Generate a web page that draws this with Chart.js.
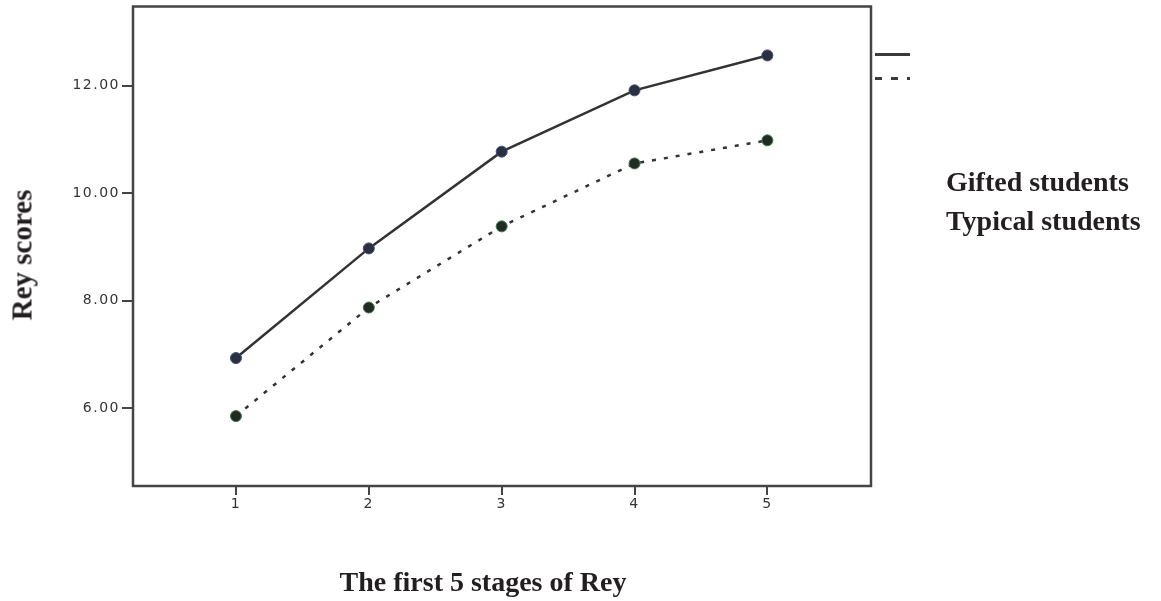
<!DOCTYPE html>
<html>
<head>
<meta charset="utf-8">
<script src="https://cdn.jsdelivr.net/npm/chart.js@4/dist/chart.umd.min.js"></script>
<style>
  html, body { margin: 0; padding: 0; background: #fff; }
  #wrap { position: relative; width: 1161px; height: 601px; }
  #chart { position: absolute; left: 0; top: 0; }
  .ttl {
    position: absolute;
    font: bold 28px "Liberation Serif", "Times New Roman", serif;
    color: #231f20;
    white-space: nowrap;
    line-height: 1;
  }
  #y-title { left: 22px; top: 255px; font-size: 29px; transform: translate(-50%, -50%) rotate(-90deg); }
  #x-title { left: 483px; top: 582px; transform: translate(-50%, -50%); }
  #leg-1 { left: 946px; top: 182px; transform: translateY(-50%); }
  #leg-2 { left: 946px; top: 221px; transform: translateY(-50%); }
  .sample { position: absolute; left: 875px; width: 35px; height: 2.5px; }
  #sample-1 { top: 53px; background: #3a3a3a; }
  #sample-2 {
    top: 77px;
    background: repeating-linear-gradient(to right, #3a3a3a 0 7px, transparent 7px 16px);
  }
</style>
</head>
<body>
<div id="wrap">
  <canvas id="chart" width="1161" height="601"></canvas>
  <div class="sample" id="sample-1"></div>
  <div class="sample" id="sample-2"></div>
  <div class="ttl" id="y-title">Rey scores</div>
  <div class="ttl" id="x-title">The first 5 stages of Rey</div>
  <div class="ttl" id="leg-1">Gifted students</div>
  <div class="ttl" id="leg-2">Typical students</div>
</div>
<script>
/* ── Data ── */
const STAGES  = [1, 2, 3, 4, 5];
const GIFTED  = [6.93, 8.97, 10.77, 11.91, 12.56];
const TYPICAL = [5.85, 7.87, 9.38, 10.55, 10.98];
const Y_TICKS = [6, 8, 10, 12];

const pts = vals => STAGES.map((s, i) => ({ x: s, y: vals[i] }));

/* ── Frame round the plot + wide tick text ── */
const framePlugin = {
  id: 'frame',
  beforeLayout(chart) { chart.ctx.letterSpacing = '1.5px'; },
  beforeDraw(chart)   { chart.ctx.letterSpacing = '1.5px'; },
  afterDraw(chart) {
    const { ctx, chartArea: a } = chart;
    ctx.save();
    ctx.strokeStyle = '#444';
    ctx.lineWidth   = 2.5;
    ctx.strokeRect(a.left, a.top, a.right - a.left, a.bottom - a.top);
    ctx.restore();
  },
};

const tickFont = { family: '"DejaVu Sans", sans-serif', size: 14 };

new Chart(document.getElementById('chart'), {
  type: 'line',
  plugins: [framePlugin],
  data: {
    datasets: [
      {
        label:           'Gifted students',
        data:            pts(GIFTED),
        borderColor:     '#333',
        borderWidth:     2.5,
        pointRadius:     5.5,
        pointBackgroundColor: '#2b2f40',
        pointBorderColor:     '#3d4d7a',
        pointBorderWidth:     1,
        tension:         0,
      },
      {
        label:           'Typical students',
        data:            pts(TYPICAL),
        borderColor:     '#333',
        borderWidth:     2.5,
        borderDash:      [4, 8],
        pointRadius:     5.5,
        pointBackgroundColor: '#222a24',
        pointBorderColor:     '#3f7a4a',
        pointBorderWidth:     1,
        tension:         0,
      },
    ],
  },
  options: {
    responsive: false,
    animation:  false,
    layout: { padding: { top: 6, right: 290, left: 0, bottom: 0 } },
    plugins: {
      legend:  { display: false },
      tooltip: { enabled: false },
    },
    scales: {
      x: {
        type: 'linear',
        min:  0.225,
        max:  5.78,
        afterFit: s => { s.height = 115; s.paddingLeft = 0; s.paddingRight = 0; },
        afterBuildTicks: s => { s.ticks = STAGES.map(v => ({ value: v })); },
        border: { display: false },
        grid: {
          drawOnChartArea: false,
          color:      '#444',
          lineWidth:  2,
          tickLength: 9,
        },
        ticks: {
          color:   '#333',
          font:    tickFont,
          padding: 1,
          maxRotation: 0,
          callback: v => String(v),
        },
      },
      y: {
        min: 4.55,
        max: 13.47,
        afterFit: s => { s.width = 133; s.paddingTop = 0; s.paddingBottom = 0; },
        afterBuildTicks: s => { s.ticks = Y_TICKS.map(v => ({ value: v })); },
        border: { display: false },
        grid: {
          drawOnChartArea: false,
          color:      '#444',
          lineWidth:  2,
          tickLength: 11,
        },
        ticks: {
          color:   '#333',
          font:    tickFont,
          padding: 2,
          callback: v => v.toFixed(2),
        },
      },
    },
  },
});
</script>
</body>
</html>
